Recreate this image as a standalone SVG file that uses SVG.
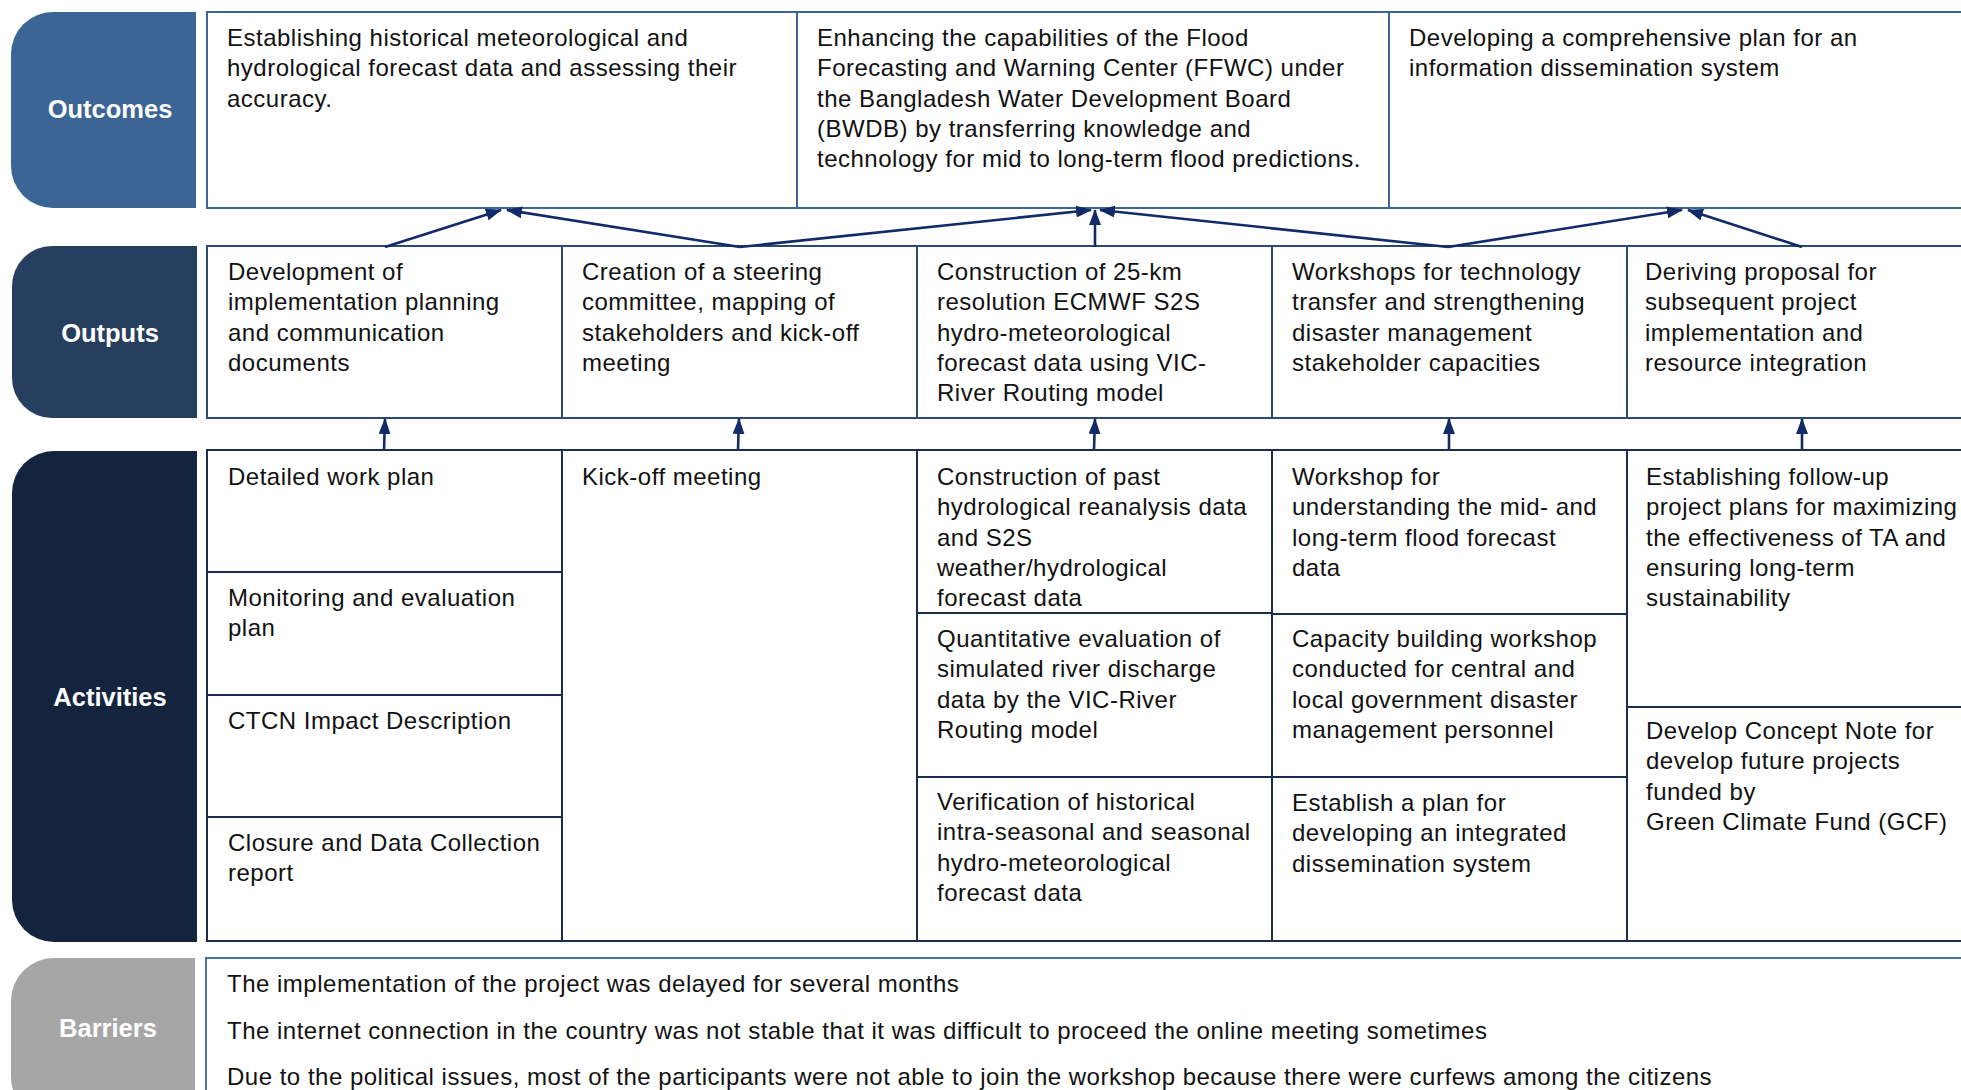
<svg xmlns="http://www.w3.org/2000/svg" width="1961" height="1090" viewBox="0 0 1961 1090">
<style>
.lbl{font-family:"Liberation Sans",Arial,sans-serif;font-size:25.5px;font-weight:bold;fill:#ffffff;text-anchor:middle;dominant-baseline:central}
.t{font-family:"Liberation Sans",Arial,sans-serif;font-size:24px;letter-spacing:0.5px;fill:#111111}
.c1{fill:#ffffff;stroke:#3d6595;stroke-width:2}
.c2{fill:#ffffff;stroke:#2b4a6e;stroke-width:2}
.c3{fill:#ffffff;stroke:#1b2f4d;stroke-width:2}
.c4{fill:#ffffff;stroke:#4a72a6;stroke-width:2}
.arr{stroke:#112a68;stroke-width:2.6;fill:none;marker-end:url(#ah)}
</style>
<defs>
<marker id="ah" markerUnits="userSpaceOnUse" markerWidth="16" markerHeight="12" viewBox="0 0 16 12" refX="15" refY="6" orient="auto">
<path d="M0,0 L16,6 L0,12 Z" fill="#112a68"/>
</marker>
</defs>
<rect width="1961" height="1090" fill="#ffffff"/>

<g id="label-outcomes">
<path d="M53,12 H196 V208 H53 A42,42 0 0 1 11,166 V54 A42,42 0 0 1 53,12 Z" fill="#3a6595"/>
<text class="lbl" x="110" y="109">Outcomes</text>
</g>
<g id="label-outputs">
<path d="M52,246 H197 V418 H52 A40,40 0 0 1 12,378 V286 A40,40 0 0 1 52,246 Z" fill="#273f5f"/>
<text class="lbl" x="110" y="333">Outputs</text>
</g>
<g id="label-activities">
<path d="M54,451 H197 V942 H54 A42,42 0 0 1 12,900 V493 A42,42 0 0 1 54,451 Z" fill="#14243f"/>
<text class="lbl" x="110" y="697">Activities</text>
</g>
<g id="label-barriers">
<path d="M54,958 H195 V1120 H54 A43,43 0 0 1 11,1077 V1001 A43,43 0 0 1 54,958 Z" fill="#a6a6a6"/>
<text class="lbl" x="108" y="1028">Barriers</text>
</g>

<g id="outcome-1">
<rect class="c1" x="207" y="12" width="590" height="196"/>
<text class="t"><tspan x="227" y="46">Establishing historical meteorological and</tspan><tspan x="227" y="76.3">hydrological forecast data and assessing their</tspan><tspan x="227" y="106.6">accuracy.</tspan></text>
</g>
<g id="outcome-2">
<rect class="c1" x="797" y="12" width="592" height="196"/>
<text class="t"><tspan x="817" y="46">Enhancing the capabilities of the Flood</tspan><tspan x="817" y="76.3">Forecasting and Warning Center (FFWC) under</tspan><tspan x="817" y="106.6">the Bangladesh Water Development Board</tspan><tspan x="817" y="136.9">(BWDB) by transferring knowledge and</tspan><tspan x="817" y="167.2">technology for mid to long-term flood predictions.</tspan></text>
</g>
<g id="outcome-3">
<rect class="c1" x="1389" y="12" width="610" height="196"/>
<text class="t"><tspan x="1409" y="46">Developing a comprehensive plan for an</tspan><tspan x="1409" y="76.3">information dissemination system</tspan></text>
</g>

<g id="output-1">
<rect class="c2" x="207" y="246" width="355" height="172"/>
<text class="t"><tspan x="228" y="280">Development of</tspan><tspan x="228" y="310.3">implementation planning</tspan><tspan x="228" y="340.6">and communication</tspan><tspan x="228" y="370.9">documents</tspan></text>
</g>
<g id="output-2">
<rect class="c2" x="562" y="246" width="355" height="172"/>
<text class="t"><tspan x="582" y="280">Creation of a steering</tspan><tspan x="582" y="310.3">committee, mapping of</tspan><tspan x="582" y="340.6">stakeholders and kick-off</tspan><tspan x="582" y="370.9">meeting</tspan></text>
</g>
<g id="output-3">
<rect class="c2" x="917" y="246" width="355" height="172"/>
<text class="t"><tspan x="937" y="280">Construction of 25-km</tspan><tspan x="937" y="310.3">resolution ECMWF S2S</tspan><tspan x="937" y="340.6">hydro-meteorological</tspan><tspan x="937" y="370.9">forecast data using VIC-</tspan><tspan x="937" y="401.2">River Routing model</tspan></text>
</g>
<g id="output-4">
<rect class="c2" x="1272" y="246" width="355" height="172"/>
<text class="t"><tspan x="1292" y="280">Workshops for technology</tspan><tspan x="1292" y="310.3">transfer and strengthening</tspan><tspan x="1292" y="340.6">disaster management</tspan><tspan x="1292" y="370.9">stakeholder capacities</tspan></text>
</g>
<g id="output-5">
<rect class="c2" x="1627" y="246" width="372" height="172"/>
<text class="t"><tspan x="1645" y="280">Deriving proposal for</tspan><tspan x="1645" y="310.3">subsequent project</tspan><tspan x="1645" y="340.6">implementation and</tspan><tspan x="1645" y="370.9">resource integration</tspan></text>
</g>

<g id="activity-1a">
<rect class="c3" x="207" y="450" width="355" height="122"/>
<text class="t"><tspan x="228" y="485">Detailed work plan</tspan></text>
</g>
<g id="activity-1b">
<rect class="c3" x="207" y="572" width="355" height="123"/>
<text class="t"><tspan x="228" y="606">Monitoring and evaluation</tspan><tspan x="228" y="636.3">plan</tspan></text>
</g>
<g id="activity-1c">
<rect class="c3" x="207" y="695" width="355" height="122"/>
<text class="t"><tspan x="228" y="729">CTCN Impact Description</tspan></text>
</g>
<g id="activity-1d">
<rect class="c3" x="207" y="817" width="355" height="124"/>
<text class="t"><tspan x="228" y="851">Closure and Data Collection</tspan><tspan x="228" y="881.3">report</tspan></text>
</g>
<g id="activity-2">
<rect class="c3" x="562" y="450" width="355" height="491"/>
<text class="t"><tspan x="582" y="485">Kick-off meeting</tspan></text>
</g>
<g id="activity-3a">
<rect class="c3" x="917" y="450" width="355" height="163"/>
<text class="t"><tspan x="937" y="485">Construction of past</tspan><tspan x="937" y="515.3">hydrological reanalysis data</tspan><tspan x="937" y="545.6">and S2S</tspan><tspan x="937" y="575.9">weather/hydrological</tspan><tspan x="937" y="606.2">forecast data</tspan></text>
</g>
<g id="activity-3b">
<rect class="c3" x="917" y="613" width="355" height="164"/>
<text class="t"><tspan x="937" y="647">Quantitative evaluation of</tspan><tspan x="937" y="677.3">simulated river discharge</tspan><tspan x="937" y="707.6">data by the VIC-River</tspan><tspan x="937" y="737.9">Routing model</tspan></text>
</g>
<g id="activity-3c">
<rect class="c3" x="917" y="777" width="355" height="164"/>
<text class="t"><tspan x="937" y="810">Verification of historical</tspan><tspan x="937" y="840.3">intra-seasonal and seasonal</tspan><tspan x="937" y="870.6">hydro-meteorological</tspan><tspan x="937" y="900.9">forecast data</tspan></text>
</g>
<g id="activity-4a">
<rect class="c3" x="1272" y="450" width="355" height="164"/>
<text class="t"><tspan x="1292" y="485">Workshop for</tspan><tspan x="1292" y="515.3">understanding the mid- and</tspan><tspan x="1292" y="545.6">long-term flood forecast</tspan><tspan x="1292" y="575.9">data</tspan></text>
</g>
<g id="activity-4b">
<rect class="c3" x="1272" y="614" width="355" height="163"/>
<text class="t"><tspan x="1292" y="647">Capacity building workshop</tspan><tspan x="1292" y="677.3">conducted for central and</tspan><tspan x="1292" y="707.6">local government disaster</tspan><tspan x="1292" y="737.9">management personnel</tspan></text>
</g>
<g id="activity-4c">
<rect class="c3" x="1272" y="777" width="355" height="164"/>
<text class="t"><tspan x="1292" y="811">Establish a plan for</tspan><tspan x="1292" y="841.3">developing an integrated</tspan><tspan x="1292" y="871.6">dissemination system</tspan></text>
</g>
<g id="activity-5a">
<rect class="c3" x="1627" y="450" width="372" height="257"/>
<text class="t"><tspan x="1646" y="485">Establishing follow-up</tspan><tspan x="1646" y="515.3">project plans for maximizing</tspan><tspan x="1646" y="545.6">the effectiveness of TA and</tspan><tspan x="1646" y="575.9">ensuring long-term</tspan><tspan x="1646" y="606.2">sustainability</tspan></text>
</g>
<g id="activity-5b">
<rect class="c3" x="1627" y="707" width="372" height="234"/>
<text class="t"><tspan x="1646" y="739">Develop Concept Note for</tspan><tspan x="1646" y="769.3">develop future projects</tspan><tspan x="1646" y="799.6">funded by</tspan><tspan x="1646" y="829.9">Green Climate Fund (GCF)</tspan></text>
</g>

<g id="barriers">
<rect class="c4" x="206" y="958" width="1800" height="200"/>
<text class="t"><tspan x="227" y="992">The implementation of the project was delayed for several months</tspan><tspan x="227" y="1038.5">The internet connection in the country was not stable that it was difficult to proceed the online meeting sometimes</tspan><tspan x="227" y="1085">Due to the political issues, most of the participants were not able to join the workshop because there were curfews among the citizens</tspan></text>
</g>

<g id="connectors">
<line class="arr" x1="385" y1="247" x2="501" y2="210"/>
<line class="arr" x1="740" y1="247" x2="507" y2="210"/>
<line class="arr" x1="740" y1="247" x2="1091" y2="210"/>
<line class="arr" x1="1095" y1="247" x2="1095" y2="210"/>
<line class="arr" x1="1448" y1="247" x2="1100" y2="210"/>
<line class="arr" x1="1448" y1="247" x2="1682" y2="210"/>
<line class="arr" x1="1802" y1="247" x2="1688" y2="210"/>
<line class="arr" x1="384" y1="450" x2="385" y2="419"/>
<line class="arr" x1="738" y1="450" x2="739" y2="419"/>
<line class="arr" x1="1094" y1="450" x2="1095" y2="419"/>
<line class="arr" x1="1449" y1="450" x2="1449" y2="419"/>
<line class="arr" x1="1802" y1="450" x2="1802" y2="419"/>
</g>
</svg>
